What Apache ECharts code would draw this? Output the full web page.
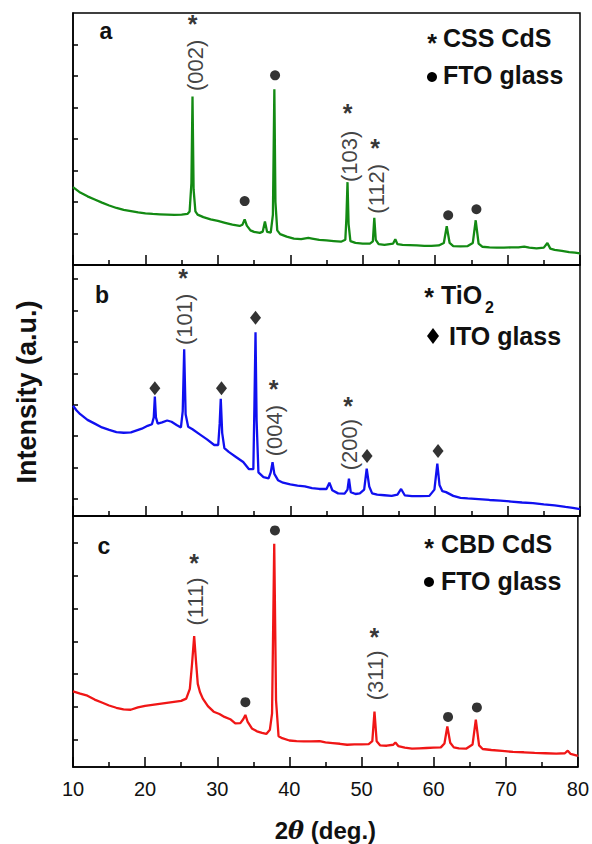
<!DOCTYPE html>
<html>
<head>
<meta charset="utf-8">
<script src="https://cdn.jsdelivr.net/npm/echarts@6/dist/echarts.min.js"></script>
<style>
  html, body { margin: 0; padding: 0; background: #ffffff; }
  #chart { width: 592px; height: 844px; }
</style>
</head>
<body>
<div id="chart"></div>
<script>
// ---------- (a) CSS CdS on FTO glass ----------
const cssTheta = [10.0, 11.0, 12.0, 13.0, 14.0, 15.0, 16.0, 17.0, 18.0, 19.0, 20.0, 21.0, 22.0, 23.0, 24.0, 25.0, 25.8, 26.1, 26.35, 26.5, 26.65, 26.9, 27.2, 28.0, 29.0, 30.0, 31.0, 32.0, 33.0, 33.4, 33.7, 34.0, 34.5, 35.0, 35.8, 36.2, 36.5, 36.8, 37.3, 37.6, 37.8, 37.95, 38.2, 38.6, 39.5, 40.5, 41.5, 42.5, 43.0, 44.0, 45.0, 46.0, 47.0, 47.6, 47.75, 47.9, 48.05, 48.3, 49.0, 50.0, 51.0, 51.4, 51.6, 51.8, 52.2, 53.0, 54.2, 54.5, 54.8, 55.5, 56.5, 57.5, 58.5, 59.5, 60.5, 61.2, 61.6, 62.0, 62.5, 63.5, 64.5, 65.2, 65.6, 66.0, 66.5, 67.5, 68.5, 69.5, 70.5, 71.5, 72.3, 73.0, 74.0, 75.0, 75.5, 75.9, 76.5, 77.5, 78.5, 79.3, 80.0];
const cssIntensity = [2.47, 2.30, 2.18, 2.08, 1.98, 1.89, 1.81, 1.75, 1.71, 1.67, 1.64, 1.62, 1.61, 1.60, 1.59, 1.60, 1.62, 1.70, 2.60, 5.35, 2.40, 1.70, 1.60, 1.52, 1.45, 1.40, 1.34, 1.28, 1.24, 1.28, 1.45, 1.25, 1.10, 1.05, 1.02, 1.06, 1.38, 1.05, 1.03, 1.60, 5.58, 2.00, 1.10, 0.98, 0.90, 0.84, 0.82, 0.86, 0.84, 0.80, 0.78, 0.76, 0.74, 0.80, 1.50, 2.63, 1.30, 0.76, 0.70, 0.68, 0.68, 0.75, 1.50, 0.80, 0.66, 0.64, 0.68, 0.82, 0.66, 0.64, 0.63, 0.62, 0.61, 0.61, 0.62, 0.70, 1.23, 0.70, 0.60, 0.59, 0.60, 0.70, 1.42, 0.68, 0.58, 0.56, 0.55, 0.55, 0.56, 0.56, 0.58, 0.55, 0.53, 0.55, 0.70, 0.52, 0.48, 0.45, 0.41, 0.39, 0.37];
const cssStarTheta = [26.5, 47.9, 51.7];
const cssStarY = [7.8, 4.98, 3.87];
const cssPlaneLabels = ['(002)', '(103)', '(112)'];
const cssPlaneTheta = [26.9, 48.2, 51.9];
const cssPlaneY = [6.34, 3.45, 2.42];
const ftoDotThetaA = [33.7, 37.9, 61.8, 65.7];
const ftoDotYA = [2.03, 6.02, 1.58, 1.77];

// ---------- (b) TiO2 on ITO glass ----------
const tioTheta = [10.0, 10.5, 11.0, 12.0, 13.0, 14.0, 15.0, 16.0, 17.0, 18.0, 18.5, 19.5, 20.3, 20.9, 21.15, 21.3, 21.45, 21.7, 22.3, 23.0, 23.6, 24.3, 24.9, 25.15, 25.35, 25.55, 25.9, 26.5, 27.5, 28.5, 29.5, 30.05, 30.25, 30.4, 30.6, 30.9, 31.5, 32.5, 33.5, 34.3, 34.9, 35.05, 35.2, 35.35, 35.6, 36.3, 37.0, 37.3, 37.55, 37.8, 38.3, 39.0, 40.0, 41.0, 42.0, 43.0, 44.0, 45.0, 45.4, 45.8, 46.6, 47.5, 47.9, 48.1, 48.35, 49.0, 49.6, 50.2, 50.55, 50.9, 51.3, 52.0, 53.0, 54.0, 54.8, 55.3, 55.8, 56.8, 58.0, 59.2, 59.9, 60.3, 60.6, 61.0, 61.5, 62.5, 63.5, 64.5, 66.0, 67.5, 69.0, 70.5, 72.0, 73.5, 75.0, 76.5, 78.0, 79.0, 80.0];
const tioIntensity = [2.97, 2.82, 2.70, 2.52, 2.40, 2.28, 2.20, 2.13, 2.11, 2.12, 2.16, 2.24, 2.33, 2.38, 2.60, 3.26, 2.60, 2.40, 2.44, 2.50, 2.46, 2.36, 2.28, 2.80, 4.77, 2.70, 2.30, 2.22, 2.06, 1.90, 1.72, 1.72, 2.40, 3.19, 2.10, 1.62, 1.50, 1.34, 1.18, 0.95, 0.95, 3.00, 5.31, 2.50, 0.85, 0.70, 0.66, 0.85, 1.17, 0.80, 0.60, 0.52, 0.47, 0.43, 0.40, 0.35, 0.32, 0.32, 0.52, 0.28, 0.18, 0.17, 0.30, 0.65, 0.22, 0.16, 0.18, 0.30, 0.97, 0.40, 0.18, 0.14, 0.12, 0.10, 0.14, 0.32, 0.12, 0.09, 0.09, 0.10, 0.30, 1.13, 0.45, 0.25, 0.22, 0.10, 0.04, 0.02, 0.00, -0.03, -0.05, -0.08, -0.11, -0.13, -0.17, -0.20, -0.25, -0.28, -0.32];
const tioStarTheta = [25.2, 37.7, 48.0];
const tioStarY = [7.18, 3.67, 3.13];
const tioPlaneLabels = ['(101)', '(004)', '(200)'];
const tioPlaneTheta = [25.4, 37.8, 48.2];
const tioPlaneY = [5.72, 2.18, 1.73];
const itoDiamondTheta = [21.3, 30.5, 35.2, 50.6, 60.4];
const itoDiamondY = [3.53, 3.53, 5.77, 1.37, 1.53];

// ---------- (c) CBD CdS on FTO glass ----------
const cbdTheta = [10.0, 11.0, 12.0, 13.0, 14.0, 15.0, 16.0, 17.0, 18.0, 19.0, 20.0, 21.0, 22.0, 23.0, 24.0, 25.0, 25.7, 26.2, 26.5, 26.8, 27.05, 27.3, 27.6, 28.0, 28.7, 29.5, 30.3, 31.0, 31.8, 32.5, 33.2, 33.6, 33.9, 34.2, 34.8, 35.5, 36.2, 36.8, 37.3, 37.6, 37.9, 38.15, 38.5, 39.0, 40.0, 41.0, 42.0, 43.0, 44.2, 45.0, 46.0, 47.0, 48.0, 49.0, 50.0, 51.0, 51.5, 51.8, 52.1, 52.6, 53.5, 54.4, 54.7, 55.1, 56.0, 57.0, 58.0, 59.0, 60.0, 61.0, 61.5, 61.9, 62.3, 62.8, 63.5, 64.5, 65.4, 65.85, 66.3, 66.8, 68.0, 69.5, 71.0, 72.5, 74.0, 75.5, 77.0, 78.2, 78.6, 79.0, 80.0];
const cbdIntensity = [1.47, 1.40, 1.34, 1.22, 1.13, 1.04, 0.97, 0.92, 0.91, 0.98, 1.03, 1.06, 1.09, 1.12, 1.15, 1.18, 1.25, 1.55, 2.30, 3.16, 2.40, 1.70, 1.45, 1.25, 1.02, 0.85, 0.78, 0.69, 0.62, 0.49, 0.50, 0.62, 0.75, 0.55, 0.34, 0.25, 0.20, 0.17, 0.30, 0.80, 5.98, 1.20, 0.10, 0.04, -0.03, -0.05, -0.06, -0.06, -0.05, -0.09, -0.11, -0.13, -0.16, -0.15, -0.15, -0.14, -0.05, 0.85, -0.05, -0.18, -0.19, -0.16, -0.09, -0.20, -0.25, -0.28, -0.27, -0.26, -0.25, -0.24, -0.12, 0.40, -0.10, -0.24, -0.27, -0.28, -0.15, 0.61, -0.18, -0.29, -0.32, -0.35, -0.38, -0.39, -0.41, -0.42, -0.43, -0.42, -0.34, -0.44, -0.50];
const cbdStarTheta = [26.8, 51.8];
const cbdStarY = [5.56, 3.28];
const cbdPlaneLabels = ['(111)', '(311)'];
const cbdPlaneTheta = [26.95, 51.95];
const cbdPlaneY = [4.22, 1.96];
const ftoDotThetaC = [33.9, 38.0, 62.0, 66.0];
const ftoDotYC = [1.14, 6.39, 0.69, 0.98];

// ---------- axes ----------
const thetaTicks = [10, 20, 30, 40, 50, 60, 70, 80];
const yRangeA = [0, 8];
const yTicksA = [1, 2, 3, 4, 5, 6, 7];
const yRangeB = [-0.54, 7.45];
const yTicksB = [0, 1, 2, 3, 4, 5, 6, 7];
const yRangeC = [-0.84, 6.83];
const yTicksC = [0, 1, 2, 3, 4, 5, 6];

const FONT = '"Liberation Sans", Arial, Helvetica, sans-serif';
const zip = (xs, ys) => xs.map((x, i) => [x, ys[i]]);

const grids = [
  { left: 73, right: 12, top: 13, height: 252 },
  { left: 73, right: 12, top: 265, height: 251 },
  { left: 73, right: 12, top: 516, height: 251 }
].map(g => Object.assign(g, { show: true, borderColor: '#000', borderWidth: 1.5, backgroundColor: 'transparent' }));

function xAxisFor(i, showLabels) {
  return {
    type: 'value', gridIndex: i,
    min: thetaTicks[0], max: thetaTicks[thetaTicks.length - 1], interval: 10,
    axisLine: { show: true, onZero: false, lineStyle: { color: '#000', width: 1.5 } },
    axisTick: { show: true, inside: true, length: 10, lineStyle: { color: '#000', width: 1.5 } },
    minorTick: { show: true, splitNumber: 2, length: 5, lineStyle: { color: '#000', width: 1.5 } },
    splitLine: { show: false },
    minorSplitLine: { show: false },
    axisLabel: showLabels ? {
      show: true, color: '#111', fontSize: 20, fontFamily: FONT, margin: 12,
      showMinLabel: true, showMaxLabel: true
    } : { show: false },
    name: showLabels ? '{n|2}{t|θ}{n| (deg.)}' : '',
    nameLocation: 'middle',
    nameGap: 51,
    nameTextStyle: {
      rich: {
        n: { fontSize: 24, fontWeight: 'bold', fontFamily: FONT, color: '#111' },
        t: { fontSize: 24, fontWeight: 'bold', fontStyle: 'italic', fontFamily: '"DejaVu Serif", serif', color: '#111' }
      }
    }
  };
}

function yAxisFor(i, range, ticks) {
  return {
    type: 'value', gridIndex: i, min: range[0], max: range[1],
    axisLine: { show: true, onZero: false, lineStyle: { color: '#000', width: 1.5 } },
    axisTick: { show: true, inside: true, length: 5, customValues: ticks, lineStyle: { color: '#000', width: 1.5 } },
    axisLabel: { show: false },
    splitLine: { show: false }
  };
}

function trace(i, xs, ys, color) {
  return {
    type: 'line', xAxisIndex: i, yAxisIndex: i,
    data: zip(xs, ys), showSymbol: false, symbol: 'none', smooth: false,
    lineStyle: { color: color, width: 2.3 }, z: 2, silent: true
  };
}

function markers(i, xs, ys, symbol, size) {
  return {
    type: 'scatter', xAxisIndex: i, yAxisIndex: i,
    data: zip(xs, ys), symbol: symbol, symbolSize: size,
    itemStyle: { color: '#000' }, z: 5, silent: true
  };
}

function stars(i, xs, ys) {
  return {
    type: 'scatter', xAxisIndex: i, yAxisIndex: i,
    data: zip(xs, ys), symbolSize: 1, itemStyle: { color: 'transparent' },
    label: { show: true, position: 'inside', formatter: '*', offset: [0, 5],
             fontSize: 25, fontWeight: 'bold', fontFamily: FONT, color: '#000' },
    z: 5, silent: true
  };
}

function planes(i, xs, ys, names) {
  return {
    type: 'scatter', xAxisIndex: i, yAxisIndex: i,
    data: xs.map((x, k) => ({ value: [x, ys[k]], name: names[k] })),
    symbolSize: 1, itemStyle: { color: 'transparent' },
    label: { show: true, position: 'inside', formatter: p => p.name, rotate: 90,
             fontSize: 22, fontFamily: FONT, color: '#111' },
    z: 5, silent: true
  };
}

// legend and panel captions
const boldText = (x, y, text, size, align) => ({
  type: 'text', x: x, y: y, z: 10,
  style: { text: text, font: 'bold ' + size + 'px ' + FONT, fill: '#111',
           textAlign: align || 'left', textVerticalAlign: 'middle' }
});
const graphics = [
  boldText(106, 31, 'a', 23, 'center'),
  boldText(102, 295, 'b', 23, 'center'),
  boldText(104, 546, 'c', 23, 'center'),

  boldText(432, 43, '*', 25, 'center'),
  boldText(443, 38, 'CSS CdS', 25),
  { type: 'circle', shape: { cx: 432, cy: 77, r: 5 }, style: { fill: '#000' }, z: 10 },
  boldText(443, 75, 'FTO glass', 25),

  boldText(429, 297, '*', 25, 'center'),
  boldText(441, 295, 'TiO', 25),
  boldText(485, 307, '2', 16),
  { type: 'polygon', shape: { points: [[433, 328], [439, 336], [433, 344], [427, 336]] }, style: { fill: '#000' }, z: 10 },
  boldText(449, 336, 'ITO glass', 25),

  boldText(429, 548, '*', 25, 'center'),
  boldText(441, 544, 'CBD CdS', 25),
  { type: 'circle', shape: { cx: 429, cy: 582, r: 5 }, style: { fill: '#000' }, z: 10 },
  boldText(441, 581, 'FTO glass', 25),

  {
    type: 'text', x: 27, y: 392, rotation: Math.PI / 2, z: 10,
    style: { text: 'Intensity (a.u.)', font: 'bold 27px ' + FONT, fill: '#111',
             textAlign: 'center', textVerticalAlign: 'middle' }
  }
];

const chart = echarts.init(document.getElementById('chart'), null, { renderer: 'svg' });
chart.setOption({
  animation: false,
  backgroundColor: '#ffffff',
  grid: grids,
  xAxis: [xAxisFor(0, false), xAxisFor(1, false), xAxisFor(2, true)],
  yAxis: [yAxisFor(0, yRangeA, yTicksA), yAxisFor(1, yRangeB, yTicksB), yAxisFor(2, yRangeC, yTicksC)],
  series: [
    trace(0, cssTheta, cssIntensity, '#138a13'),
    stars(0, cssStarTheta, cssStarY),
    planes(0, cssPlaneTheta, cssPlaneY, cssPlaneLabels),
    markers(0, ftoDotThetaA, ftoDotYA, 'circle', 10),

    trace(1, tioTheta, tioIntensity, '#1010f0'),
    stars(1, tioStarTheta, tioStarY),
    planes(1, tioPlaneTheta, tioPlaneY, tioPlaneLabels),
    markers(1, itoDiamondTheta, itoDiamondY, 'diamond', [11, 14]),

    trace(2, cbdTheta, cbdIntensity, '#f01616'),
    stars(2, cbdStarTheta, cbdStarY),
    planes(2, cbdPlaneTheta, cbdPlaneY, cbdPlaneLabels),
    markers(2, ftoDotThetaC, ftoDotYC, 'circle', 10)
  ],
  graphic: graphics
});
</script>
</body>
</html>
